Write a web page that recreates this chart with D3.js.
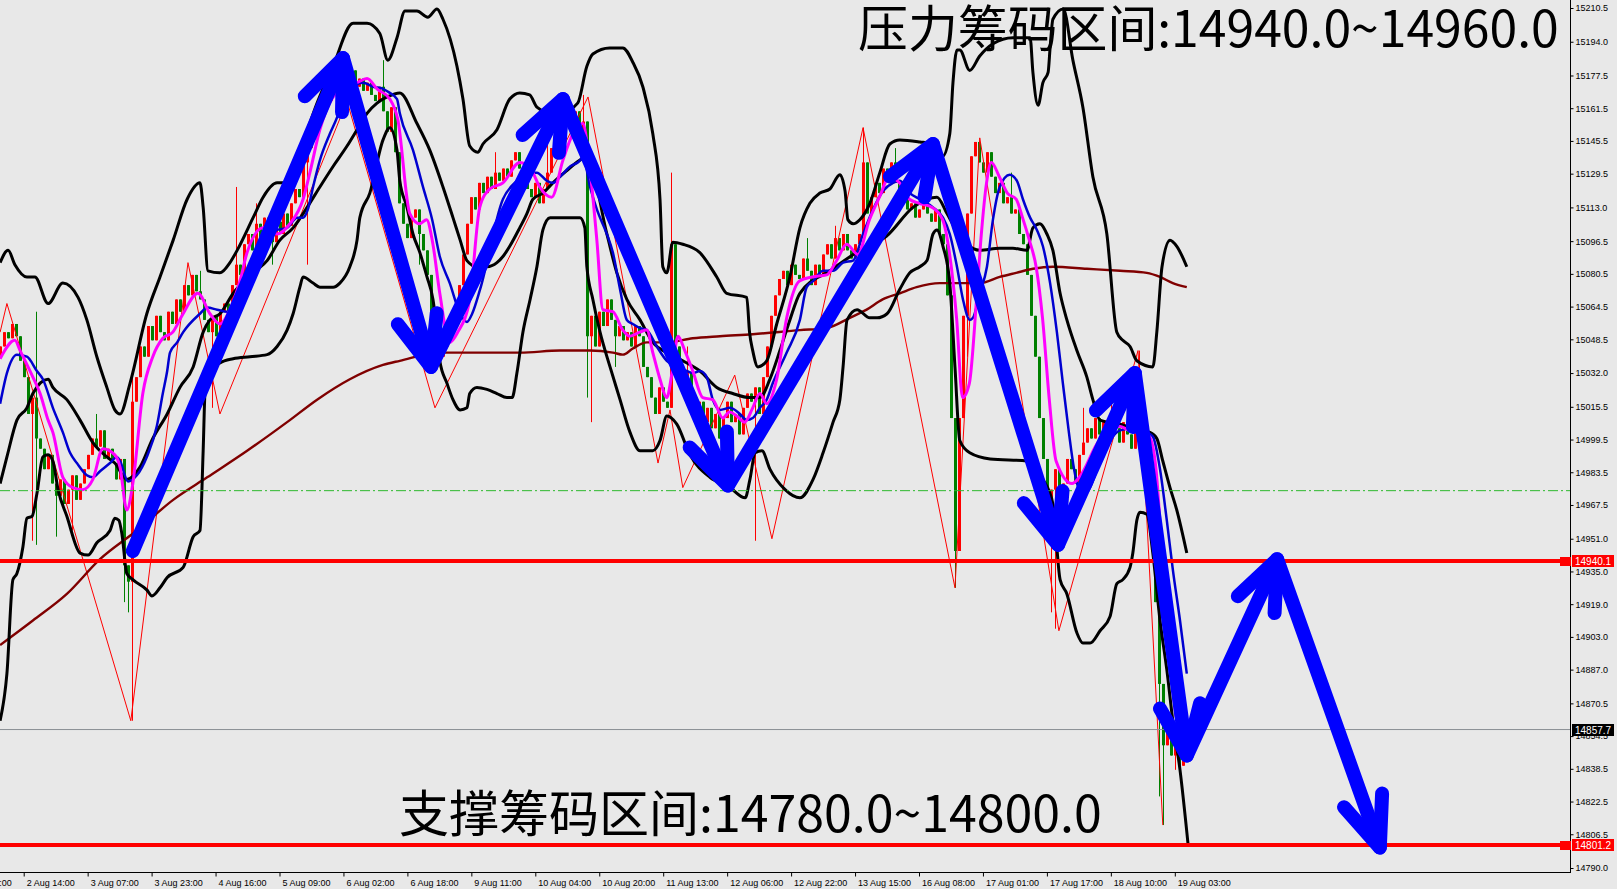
<!DOCTYPE html>
<html><head><meta charset="utf-8">
<script src="https://cdn.jsdelivr.net/npm/d3@7/dist/d3.min.js"></script>
<style>
html,body{margin:0;padding:0;background:#e8e8e8;overflow:hidden;}
svg{display:block;}
</style></head>
<body>
<svg id="c" width="1617" height="889"></svg>
<script>
// ---------------- DATA ----------------
const yTickLabels = ["15210.5","15194.0","15177.5","15161.5","15145.5","15129.5","15113.0","15096.5","15080.5","15064.5","15048.5","15032.0","15015.5","14999.5","14983.5","14967.5","14951.0","14935.0","14919.0","14903.0","14887.0","14870.5","14854.5","14838.5","14822.5","14806.5","14790.0"];
const xTickBars = [-16,0,16,32,48,64,80,96,112,128,144,160,176,192,208,224,240,256,272,288];
const xTickLabels = ["30 Jul 22:00","2 Aug 14:00","3 Aug 07:00","3 Aug 23:00","4 Aug 16:00","5 Aug 09:00","6 Aug 02:00","6 Aug 18:00","9 Aug 11:00","10 Aug 04:00","10 Aug 20:00","11 Aug 13:00","12 Aug 06:00","12 Aug 22:00","13 Aug 15:00","16 Aug 08:00","17 Aug 01:00","17 Aug 17:00","18 Aug 10:00","19 Aug 03:00"];

// H1 candles, bar index 0 = 2 Aug 14:00
const firstBar = -6;
const firstOpen = 15040;
const closes = [
 15045,15052,15049,15056,15050,15038,
 15030,15012,15020,15000,14995,14985,14992,14978,14972,14980,
 14968,14975,14982,14970,14978,14985,14992,15000,14996,15004,
 14990,14995,14988,14980,14990,14938,14930,15018,15030,15045,
 15040,15055,15048,15060,15052,15048,15062,15056,15068,15062,
 15075,15070,15080,15072,15068,15058,15052,15060,15050,15062,
 15066,15058,15075,15085,15080,15095,15100,15092,15105,15098,
 15108,15100,15096,15106,15100,15110,15104,15115,15122,15118,
 15135,15142,15150,15160,15165,15170,15165,15176,15172,15178,
 15170,15175,15180,15172,15176,15170,15174,15168,15165,15172,
 15160,15150,15162,15140,15115,15105,15098,15108,15112,15100,
 15092,15080,15062,15050,15040,15045,15052,15060,15058,15075,
 15090,15105,15118,15112,15125,15120,15128,15122,15130,15126,
 15132,15128,15136,15140,15132,15128,15122,15118,15125,15115,
 15122,15130,15142,15150,15145,15155,15158,15152,15160,15150,
 15155,15050,15060,15045,15062,15055,15068,15058,15050,15055,
 15048,15052,15045,15055,15050,15035,15030,15020,15012,15025,
 15018,15015,15095,15045,15035,15028,15032,15020,15012,15018,
 15008,15015,15005,15012,15000,15010,15018,15008,15012,15002,
 15015,15022,15018,15025,15012,15030,15045,15060,15070,15078,
 15082,15075,15085,15080,15078,15088,15082,15075,15085,15080,
 15090,15095,15088,15098,15092,15100,15092,15088,15095,15100,
 15135,15110,15118,15125,15120,15132,15128,15135,15125,15120,
 15118,15112,15115,15108,15112,15118,15110,15106,15112,15100,
 15095,15070,15010,14945,15010,15060,15110,15138,15145,15135,
 15130,15140,15128,15120,15125,15115,15118,15110,15112,15100,
 15095,15080,15060,15040,15010,14990,14960,14975,14985,14970,
 14978,14990,14985,14978,14992,14998,15005,15000,15010,15002,
 15008,15000,15012,15005,14998,15008,15002,14995,15005,15010,
 14998,14990,14960,14920,14880,14850,14862,14845,14855,14840,
 14850,14842
];
// notable wicks: [bar, high, low]
const wickExtremes = [
 [2,null,14950],[3,15062,14948],[8,null,14952],[12,null,14955],[18,15012,null],
 [25,null,14920],[26,null,14915],[27,15030,14862],[44,15082,null],[47,null,15015],
 [53,15123,null],[58,15115,null],[62,null,15085],[71,null,15085],[90,15185,null],
 [99,null,15085],[118,15140,null],[131,15145,null],[140,15168,null],[141,null,15020],
 [142,null,15008],[148,null,15035],[162,15130,null],[166,15045,null],[175,null,14995],
 [183,null,14950],[196,15098,null],[203,15104,null],[210,15152,null],[218,15142,null],
 [233,null,14927],[236,null,15040],[247,15130,null],[257,null,14915],[258,null,14907],
 [265,15015,null],[272,15022,null],[279,15043,null],[284,null,14825],[285,null,14811],[288,null,14838]
];

// indicator lines [bar, price]
const upperBand = [[-5.9,15086],[-3.9,15092],[-2.2,15085],[0.8,15079],[2.8,15079],[6.1,15066],[9.8,15076],[13.6,15069],[15.8,15058],[18.3,15040],[20.8,15025],[22.8,15014],[24.1,15012],[26.6,15027],[30.8,15061],[34.1,15079],[37.4,15097],[40.9,15117],[44.1,15125],[44.9,15113],[46.1,15082],[49.1,15081],[51.6,15086],[53.4,15092],[57.4,15108],[59.9,15118],[63.4,15125],[64.9,15125],[69.1,15141],[73.6,15165],[77.4,15182],[82.4,15203],[85.9,15203],[89.1,15198],[91.1,15185],[93.4,15196],[95.4,15209],[98.4,15209],[101.1,15206],[103.4,15210],[104.9,15205],[108.4,15182],[109.9,15166],[111.6,15143],[113.6,15140],[114.9,15144],[118.4,15151],[121.6,15166],[124.1,15169],[126.6,15168],[128.4,15162],[133.4,15158],[138.6,15164],[140.9,15182],[142.4,15188],[146.6,15191],[149.9,15191],[152.4,15184],[154.9,15172],[157.4,15149],[159.2,15117],[159.9,15084],[160.9,15081],[162.4,15096],[164.9,15095],[169.1,15091],[173.4,15079],[175.9,15071],[180.9,15069],[181.6,15052],[182.4,15043],[183.7,15035],[185.9,15038],[188.4,15056],[191.7,15079],[194.2,15103],[196.7,15115],[199.2,15120],[201.7,15122],[204.2,15129],[205.5,15121],[206.2,15107],[207.5,15105],[209.2,15107],[211.7,15115],[214.2,15130],[216.7,15144],[219.2,15146],[224.2,15145],[227.2,15144],[229.9,15138],[231.7,15149],[232.5,15174],[233.5,15190],[234.2,15190],[236.7,15180],[239.2,15187],[242.5,15193],[247.5,15196],[251.8,15196],[252.5,15179],[253.8,15163],[255.0,15174],[256.3,15179],[256.8,15191],[257.5,15205],[260.1,15210],[262.5,15185],[265.0,15162],[267.5,15128],[271.0,15100],[273.5,15052],[275.0,15048],[276.8,15045],[278.5,15038],[282.5,15035],[283.5,15052],[284.8,15084],[286.8,15097],[288.5,15094],[291.0,15084]];
const middleBand = [[-5.9,14978],[-4.2,14991],[-1.7,15009],[0.8,15015],[2.3,15022],[6.1,15029],[7.3,15025],[10.8,15019],[14.1,15009],[17.3,14998],[20.8,14991],[22.8,14988],[25.8,14980],[29.1,14986],[32.3,15000],[35.9,15012],[39.1,15025],[42.4,15035],[44.9,15052],[46.6,15058],[49.1,15061],[52.4,15071],[57.4,15081],[60.9,15087],[64.1,15097],[67.4,15103],[70.9,15113],[74.1,15123],[77.4,15133],[80.9,15143],[83.4,15151],[85.9,15159],[88.4,15164],[90.9,15167],[94.1,15169],[98.4,15154],[101.6,15141],[104.9,15123],[107.4,15108],[109.2,15097],[110.9,15087],[113.4,15084],[115.9,15084],[118.4,15086],[119.9,15089],[121.6,15094],[124.1,15103],[125.9,15110],[127.4,15117],[129.9,15120],[132.4,15125],[135.9,15131],[139.1,15136],[140.9,15138],[145.9,15100],[148.4,15081],[150.9,15068],[154.2,15058],[157.4,15047],[160.9,15042],[164.9,15038],[169.2,15033],[173.4,15025],[177.4,15022],[181.7,15020],[184.2,15020],[186.7,15029],[189.2,15043],[191.7,15058],[194.2,15071],[201.7,15082],[209.2,15092],[215.9,15099],[222.5,15113],[226.0,15117],[228.5,15118],[231.0,15110],[233.0,15103],[236.0,15095],[239.2,15092],[244.2,15093],[247.5,15093],[251.0,15092],[252.5,15103],[254.2,15105],[256.0,15100],[257.5,15092],[259.3,15071],[261.0,15058],[263.5,15043],[266.0,15030],[267.5,15019],[269.3,15009],[274.3,15007],[279.3,15004],[281.8,15003],[283.5,15000],[285.0,14989],[286.8,14976],[288.5,14965],[291.0,14944]];
const lowerBand = [[-5.9,14862],[-4.2,14885],[-2.7,14931],[-1.7,14934],[-0.2,14947],[0.8,14961],[2.1,14962],[3.3,14973],[4.8,14991],[6.1,14992],[7.3,14989],[8.6,14975],[10.8,14962],[14.1,14944],[16.1,14943],[18.3,14949],[21.6,14955],[22.8,14961],[23.8,14960],[24.6,14953],[25.8,14934],[27.3,14931],[30.8,14926],[32.1,14923],[34.1,14927],[35.9,14932],[39.9,14937],[42.4,14952],[44.1,14955],[44.9,14994],[45.4,15024],[46.6,15033],[49.1,15037],[52.4,15039],[56.6,15040],[60.9,15041],[63.4,15045],[65.9,15053],[67.4,15061],[69.1,15074],[69.9,15079],[72.4,15076],[74.1,15074],[77.4,15074],[79.1,15076],[81.6,15084],[83.4,15097],[84.1,15108],[86.6,15120],[89.9,15146],[91.6,15152],[93.4,15141],[94.1,15126],[95.9,15113],[97.4,15100],[99.1,15091],[100.9,15079],[102.4,15068],[103.4,15052],[104.1,15038],[105.9,15027],[107.4,15019],[109.2,15014],[110.9,15015],[111.6,15022],[113.4,15025],[115.9,15024],[118.4,15022],[120.9,15020],[122.2,15020],[123.4,15032],[124.9,15052],[126.7,15068],[128.4,15084],[129.9,15102],[131.7,15108],[133.4,15108],[135.9,15108],[139.2,15108],[140.4,15103],[140.9,15084],[142.4,15068],[144.2,15052],[146.7,15035],[149.2,15019],[151.7,15003],[154.2,14994],[157.4,14994],[159.2,14999],[160.9,15011],[163.4,15007],[166.7,14992],[171.7,14981],[176.7,14976],[180.5,14971],[181.7,14980],[183.0,14993],[184.7,14994],[186.7,14985],[190.5,14975],[194.2,14971],[197.5,14980],[200.0,14993],[202.5,15008],[204.2,15019],[205.0,15035],[206.0,15058],[208.5,15063],[211.7,15059],[213.5,15059],[216.0,15061],[219.2,15073],[221.7,15081],[224.2,15084],[226.0,15087],[227.5,15100],[228.5,15102],[230.0,15094],[231.7,15076],[233.0,15035],[234.2,14999],[236.7,14993],[241.8,14990],[251.0,14989],[255.0,14980],[257.5,14968],[259.3,14931],[261.0,14924],[263.5,14905],[265.0,14900],[266.8,14900],[269.3,14906],[271.8,14913],[273.5,14929],[275.0,14931],[276.8,14937],[277.5,14944],[278.5,14960],[279.3,14964],[281.0,14963],[282.5,14944],[284.3,14911],[286.0,14887],[287.5,14862],[289.3,14838],[291.3,14802]];
const blueMA = [[-5.9,15017],[-4.2,15032],[-1.7,15041],[0.8,15040],[3.3,15033],[4.8,15029],[7.3,15015],[9.8,15003],[11.6,14993],[13.3,14988],[15.8,14982],[17.3,14981],[19.1,14984],[21.6,14988],[23.3,14991],[24.1,14989],[26.1,14979],[28.3,14982],[30.8,14991],[33.3,15006],[34.8,15022],[35.9,15033],[36.6,15042],[38.4,15047],[39.9,15052],[44.1,15061],[45.9,15064],[48.4,15063],[50.9,15062],[53.4,15064],[54.9,15069],[57.9,15082],[60.4,15095],[63.4,15102],[65.9,15103],[68.4,15108],[69.9,15108],[71.1,15112],[72.4,15123],[74.1,15136],[76.6,15149],[78.4,15157],[79.9,15166],[82.4,15172],[84.9,15174],[87.4,15172],[89.9,15171],[91.6,15169],[93.4,15166],[94.1,15159],[97.4,15141],[99.9,15123],[102.2,15107],[104.1,15089],[106.6,15076],[109.2,15061],[110.9,15057],[112.2,15061],[114.2,15073],[119.9,15117],[123.4,15126],[125.9,15130],[128.4,15130],[130.9,15126],[132.4,15125],[134.2,15128],[136.7,15133],[139.2,15136],[139.9,15138],[141.7,15123],[143.4,15112],[145.9,15100],[147.4,15091],[149.2,15073],[150.9,15058],[152.4,15056],[154.2,15054],[155.9,15053],[158.4,15045],[160.9,15038],[163.4,15035],[165.9,15033],[167.4,15032],[169.2,15033],[170.9,15030],[172.4,15019],[174.2,15014],[176.7,15015],[179.2,15012],[180.9,15009],[182.4,15010],[184.2,15015],[185.9,15019],[187.4,15027],[190.9,15042],[194.2,15058],[195.9,15074],[197.5,15077],[200.0,15082],[202.5,15082],[205.0,15086],[207.5,15087],[210.0,15100],[212.5,15112],[215.0,15121],[217.5,15125],[219.2,15126],[221.7,15120],[224.2,15117],[227.5,15113],[230.0,15108],[231.7,15100],[233.5,15084],[235.0,15068],[236.7,15058],[237.5,15059],[239.2,15071],[241.0,15084],[242.5,15107],[244.2,15123],[246.7,15129],[248.5,15126],[250.0,15117],[251.8,15108],[253.5,15102],[255.0,15094],[256.8,15076],[258.5,15052],[260.0,15027],[261.5,15003],[262.8,14985],[265.0,14972],[266.8,14976],[269.3,14989],[271.8,14999],[274.3,15004],[277.5,15005],[281.0,15003],[282.5,15001],[284.3,14985],[286.0,14960],[287.5,14936],[289.3,14911],[291.0,14885]];
const magentaMA = [[-5.9,15039],[-2.2,15048],[-0.9,15043],[2.3,15030],[4.1,15022],[6.1,15009],[7.3,15003],[9.8,14981],[12.3,14976],[14.8,14975],[17.3,14980],[19.8,14995],[22.8,14992],[24.1,14986],[25.8,14965],[27.3,14978],[29.8,15022],[32.3,15040],[34.8,15049],[37.3,15052],[39.6,15060],[43.6,15071],[46.6,15061],[49.1,15056],[51.6,15063],[54.1,15077],[55.9,15091],[59.9,15103],[63.4,15100],[66.6,15105],[69.9,15117],[71.6,15130],[74.1,15151],[77.1,15166],[80.9,15172],[83.4,15174],[85.9,15176],[88.4,15171],[91.6,15166],[93.6,15156],[96.6,15110],[99.1,15105],[100.8,15107],[102.3,15096],[104.1,15071],[106.6,15047],[108.6,15052],[111.6,15068],[114.1,15113],[116.6,15122],[119.9,15125],[124.1,15135],[127.1,15131],[129.1,15123],[132.1,15118],[134.9,15136],[137.4,15149],[139.9,15154],[141.6,15133],[143.4,15097],[144.9,15063],[147.4,15062],[149.9,15053],[151.6,15050],[154.1,15052],[155.9,15053],[157.4,15042],[159.2,15029],[160.9,15020],[162.2,15032],[163.7,15050],[165.4,15043],[167.4,15033],[169.9,15020],[172.4,15019],[174.9,15010],[176.6,15013],[178.4,15011],[180.4,15008],[182.4,15015],[184.2,15022],[185.9,15017],[188.4,15029],[190.9,15059],[194.1,15077],[197.3,15079],[200.9,15080],[203.4,15087],[205.9,15095],[208.7,15090],[211.6,15107],[214.1,15118],[216.6,15128],[219.1,15125],[221.6,15117],[224.1,15115],[227.3,15113],[229.9,15107],[231.6,15091],[233.4,15059],[234.9,15020],[236.6,15027],[238.4,15068],[239.6,15100],[240.9,15125],[242.1,15135],[244.1,15128],[246.1,15120],[248.3,15117],[249.9,15108],[251.6,15097],[253.3,15084],[254.9,15059],[256.6,15019],[258.3,14989],[262.3,14978],[264.1,14981],[269.1,14999],[271.6,15003],[274.1,15006],[276.6,15004],[281.6,15001],[283.3,14985],[284.8,14944],[286.6,14895],[288.3,14864]];
const longMA = [[-5.9,14899],[2.3,14911],[10.8,14924],[19.1,14941],[28.3,14955],[37.4,14970],[45.9,14981],[55.9,14994],[65.9,15008],[73.4,15019],[81.6,15029],[89.9,15036],[94.1,15038],[104.1,15042],[114.2,15042],[124.2,15042],[134.2,15043],[141.7,15043],[147.4,15042],[149.9,15041],[152.4,15044],[155.9,15047],[160.9,15047],[167.4,15049],[174.2,15050],[182.4,15051],[194.2,15053],[200.9,15054],[206.7,15059],[210.9,15063],[214.9,15068],[219.2,15071],[223.4,15074],[229.2,15076],[234.2,15076],[239.2,15076],[244.2,15079],[248.3,15081],[252.5,15083],[257.5,15084],[266.0,15083],[274.3,15082],[281.0,15081],[284.3,15079],[287.5,15076],[291.0,15074]];
const zigzag = [[-5.9,15052],[-4.2,15066],[26.8,14862],[41.1,15086],[49.1,15012],[80.9,15165],[102.9,15015],[141.2,15167],[158.7,14988],[161.7,15014],[164.9,14976],[177.9,15031],[187.2,14951],[210.0,15152],[233.0,14927],[239.2,15147],[259.0,14906],[278.8,15043],[285.0,14811]];

// hand-drawn arrow path (bar, price)
const arrowBars   = [27.3, 79.9, 101.9, 134.9, 176.2, 227.5, 258.8, 278.0, 291.0, 313.6, 339.3];
const arrowPrices = [14945, 15186, 15035, 15166, 14977, 15144, 14948, 15032, 14845, 14941, 14800];

// horizontal levels
const resistLevel = 14940.1;
const supportLevel = 14801.2;
const lastPrice = 14857.7;
const greenLevel = 14974.5;
const resistText = "压力筹码区间:14940.0~14960.0";
const supportText = "支撑筹码区间:14780.0~14800.0";

// ---------------- DRAW ----------------
const W = 1617, H = 889, plotR = 1570, plotB = 872;
const svg = d3.select('#c');
const x = d3.scaleLinear().domain([0, 288]).range([23.7, 1174.8]);
const y = d3.scaleLinear().domain([14790.0, 15210.5]).range([868, 8]);

svg.append('rect').attr('width', W).attr('height', H).attr('fill', '#e8e8e8');
svg.append('defs').append('clipPath').attr('id', 'clip')
  .append('rect').attr('x', 0).attr('y', 0).attr('width', plotR).attr('height', plotB);
const g = svg.append('g').attr('clip-path', 'url(#clip)');

// candles
const bars = closes.map((c, k) => {
  const o = k === 0 ? firstOpen : closes[k - 1];
  return {i: firstBar + k, o, c, h: Math.max(o, c), l: Math.min(o, c)};
});
wickExtremes.forEach(([b, hi, lo]) => {
  const d = bars[b - firstBar]; if (!d) return;
  if (hi != null) d.h = Math.max(d.h, hi);
  if (lo != null) d.l = Math.min(d.l, lo);
});
const cg = g.append('g');
cg.selectAll('line.w').data(bars).join('line').attr('class', 'w')
  .attr('x1', d => Math.round(x(d.i)) + 0.5).attr('x2', d => Math.round(x(d.i)) + 0.5)
  .attr('y1', d => y(d.h)).attr('y2', d => y(d.l))
  .attr('stroke', d => d.c >= d.o ? '#ff0000' : '#008000').attr('stroke-width', 1);
cg.selectAll('rect.b').data(bars).join('rect').attr('class', 'b')
  .attr('x', d => Math.round(x(d.i)) - 1).attr('width', 3)
  .attr('y', d => y(Math.max(d.o, d.c)))
  .attr('height', d => Math.max(1, Math.abs(y(d.o) - y(d.c))))
  .attr('fill', d => d.c >= d.o ? '#ff0000' : '#008000');

const lineGen = d3.line().x(d => x(d[0])).y(d => y(d[1])).curve(d3.curveMonotoneX);
const straight = d3.line().x(d => x(d[0])).y(d => y(d[1]));
g.append('path').attr('d', straight(zigzag)).attr('fill', 'none').attr('stroke', '#ff0000').attr('stroke-width', 1);
g.append('path').attr('d', lineGen(longMA)).attr('fill', 'none').attr('stroke', '#800000').attr('stroke-width', 2.4);
[upperBand, middleBand, lowerBand].forEach(s => {
  g.append('path').attr('d', lineGen(s)).attr('fill', 'none').attr('stroke', '#000000')
    .attr('stroke-width', 3).attr('stroke-linejoin', 'round');
});
g.append('path').attr('d', lineGen(blueMA)).attr('fill', 'none').attr('stroke', '#0000d0').attr('stroke-width', 2.5);
g.append('path').attr('d', lineGen(magentaMA)).attr('fill', 'none').attr('stroke', '#ff00ff').attr('stroke-width', 3);

// horizontal lines
const hl = (v, color, w, dash) => {
  const yy = y(v);
  const l = g.append('line').attr('x1', 0).attr('x2', plotR).attr('y1', yy).attr('y2', yy)
    .attr('stroke', color).attr('stroke-width', w);
  if (dash) l.attr('stroke-dasharray', dash);
};
hl(greenLevel, '#2eb82e', 1, '10,3,2,3');
hl(lastPrice, '#8a8f94', 1);
hl(resistLevel, '#ff0000', 4);
hl(supportLevel, '#ff0000', 4);

// arrows
const ap = arrowBars.map((b, i) => [x(b), y(arrowPrices[i])]);
const ag = svg.append('g').attr('fill', 'none').attr('stroke', '#0000ff').attr('stroke-width', 14)
  .attr('stroke-linecap', 'round').attr('stroke-linejoin', 'round');
ag.append('path').attr('d', d3.line()(ap));
for (let i = 1; i < ap.length; i++) {
  const [tx, ty] = ap[i], [px, py] = ap[i - 1];
  const ang = Math.atan2(py - ty, px - tx), L = 54, s = 22 * Math.PI / 180;
  const b1 = [tx + L * Math.cos(ang + s), ty + L * Math.sin(ang + s)];
  const b2 = [tx + L * Math.cos(ang - s), ty + L * Math.sin(ang - s)];
  ag.append('path').attr('d', d3.line()([b1, [tx, ty], b2]));
}

// axes
const axFont = '"Liberation Sans", Arial, sans-serif';
svg.append('line').attr('x1', plotR + 0.5).attr('x2', plotR + 0.5).attr('y1', 0).attr('y2', plotB + 1).attr('stroke', '#000');
svg.append('line').attr('x1', 0).attr('x2', plotR + 1).attr('y1', plotB + 0.5).attr('y2', plotB + 0.5).attr('stroke', '#000');

const yAxis = d3.axisRight(y).tickValues(yTickLabels.map(Number)).tickFormat((d, i) => yTickLabels[i])
  .tickSizeInner(3).tickSizeOuter(0).tickPadding(2);
const ya = svg.append('g').attr('transform', `translate(${plotR + 0.5},0)`).call(yAxis);
ya.select('.domain').remove();
ya.selectAll('text').attr('font-family', axFont).attr('font-size', 9).attr('fill', '#000');
ya.selectAll('line').attr('stroke', '#000');

const xAxis = d3.axisBottom(x).tickValues(xTickBars).tickFormat((d, i) => xTickLabels[i])
  .tickSizeInner(4).tickSizeOuter(0).tickPadding(3);
const xa = svg.append('g').attr('transform', `translate(0,${plotB + 0.5})`).call(xAxis);
xa.select('.domain').remove();
xa.selectAll('text').attr('font-family', axFont).attr('font-size', 9).attr('fill', '#000')
  .attr('text-anchor', 'start').attr('dx', 2.5);
xa.selectAll('line').attr('stroke', '#000');

// price tags
const tag = (v, txt, fill, marker) => {
  const yy = Math.round(y(v));
  if (marker) svg.append('rect').attr('x', 1560).attr('y', yy - 4).attr('width', 11).attr('height', 9).attr('fill', fill);
  svg.append('rect').attr('x', 1572).attr('y', yy - 6).attr('width', 42).attr('height', 12).attr('fill', fill);
  svg.append('text').attr('x', 1575).attr('y', yy + 4).attr('font-family', axFont).attr('font-size', 10)
    .attr('fill', '#fff').text(txt);
};
tag(resistLevel, resistLevel.toFixed(1), '#ff0000', true);
tag(lastPrice, lastPrice.toFixed(1), '#000000', false);
tag(supportLevel, supportLevel.toFixed(1), '#ff0000', true);

// big labels
const cjk = '"Noto Sans CJK SC", "Noto Sans CJK JP", sans-serif';
const fit = (t, target) => { const w = t.node().getComputedTextLength(); if (w > 0) t.attr('font-size', 46 * target / w); };
const t1 = svg.append('text').attr('x', 858).attr('y', 47).attr('font-family', cjk).attr('font-size', 46).attr('fill', '#000').text(resistText);
fit(t1, 701);
const t2 = svg.append('text').attr('x', 399).attr('y', 832).attr('font-family', cjk).attr('font-size', 46).attr('fill', '#000').text(supportText);
fit(t2, 703);
</script>
</body></html>
